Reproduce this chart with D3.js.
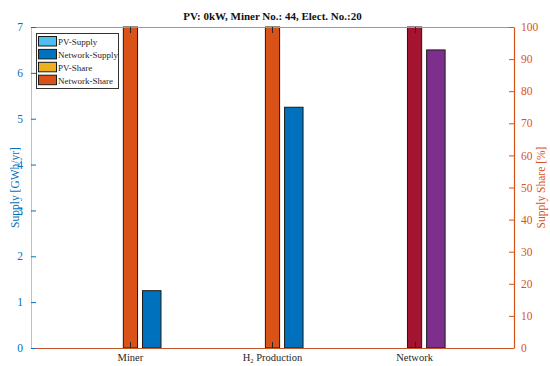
<!DOCTYPE html>
<html>
<head>
<meta charset="utf-8">
<script src="https://cdn.jsdelivr.net/npm/d3@7"></script>
<style>
  body { margin: 0; background: #fff; }
  svg, svg text { font-family: "Liberation Serif", "Times New Roman", serif; }
</style>
</head>
<body>
<svg id="chart" width="550" height="366"></svg>
<script>
// data
const categories = ["Miner", "H2 Production", "Network"];
const pvSupply = [0, 0, 0];            // GWh/yr
const networkSupply = [1.25, 5.25, 6.5];
const pvShare = [0, 0, 0];             // %
const networkShare = [100, 100, 100];
const supplyTicks = [0, 1, 2, 3, 4, 5, 6, 7];
const shareTicks = [0, 10, 20, 30, 40, 50, 60, 70, 80, 90, 100];
const legendLabels = ["PV-Supply", "Network-Supply", "PV-Share", "Network-Share"];

// styling
const BLUE = "#0072BD", ORANGE = "#D95319";
const legendColors = ["#4DBEEE", BLUE, "#EDB120", ORANGE];
const supplyColors = [BLUE, BLUE, "#7E2F8E"];
const shareColors = [ORANGE, ORANGE, "#A2142F"];
const pvColors = ["#4DBEEE", "#EDB120"];

const margin = {left: 31, right: 514, top: 27, bottom: 348};
const svg = d3.select("#chart");

const x = d3.scaleLinear().domain([0.3, 3.7]).range([margin.left, margin.right]);
const yL = d3.scaleLinear().domain([0, 7]).range([margin.bottom, margin.top]);
const yR = d3.scaleLinear().domain([0, 100]).range([margin.bottom, margin.top]);

const SHARE_W = 0.1, SUPPLY_W = 0.13, SUPPLY_OFF = 0.15;

// stacked bars: pv at the bottom, network on top
function drawStack(pv, net, scale, offset, w, pvColor, netColors) {
  const g = svg.append("g");
  categories.forEach(function(c, i) {
    const cx = x(i + 1 + offset);
    const bw = x(w) - x(0);
    if (pv[i] > 0) {
      g.append("rect")
        .attr("x", cx - bw / 2).attr("width", bw)
        .attr("y", scale(pv[i])).attr("height", scale(0) - scale(pv[i]))
        .attr("fill", pvColor).attr("stroke", "#1a1a1a").attr("stroke-width", 1);
    }
    if (net[i] > 0) {
      g.append("rect")
        .attr("x", cx - bw / 2).attr("width", bw)
        .attr("y", scale(pv[i] + net[i]))
        .attr("height", scale(pv[i]) - scale(pv[i] + net[i]))
        .attr("fill", netColors[i]).attr("stroke", "#1a1a1a").attr("stroke-width", 1);
    }
  });
}

drawStack(pvShare, networkShare, yR, 0, SHARE_W, pvColors[1], shareColors);
drawStack(pvSupply, networkSupply, yL, SUPPLY_OFF, SUPPLY_W, pvColors[0], supplyColors);

// box top line
svg.append("line")
  .attr("x1", margin.left).attr("x2", margin.right)
  .attr("y1", margin.top + 0.5).attr("y2", margin.top + 0.5)
  .attr("stroke", "#9a9a9a");

// x ticks (inward, bottom and top)
categories.forEach(function(c, i) {
  const tx = Math.round(x(i + 1)) + 0.5;
  svg.append("line").attr("x1", tx).attr("x2", tx)
    .attr("y1", margin.bottom).attr("y2", margin.bottom - 6).attr("stroke", "#262626");
  svg.append("line").attr("x1", tx).attr("x2", tx)
    .attr("y1", margin.top).attr("y2", margin.top + 6).attr("stroke", "#262626");
});

// bottom line
svg.append("line")
  .attr("x1", margin.left).attr("x2", margin.right)
  .attr("y1", margin.bottom + 0.5).attr("y2", margin.bottom + 0.5)
  .attr("stroke", "#c4572a").attr("stroke-width", 1.2);

// category labels
const catLabels = svg.append("g").attr("font-size", 10.5).attr("fill", "#262626")
  .attr("text-anchor", "middle");
categories.forEach(function(c, i) {
  const t = catLabels.append("text").attr("x", x(i + 1)).attr("y", 361);
  if (c.startsWith("H2")) {
    t.append("tspan").text("H");
    t.append("tspan").attr("font-size", 6.5).attr("dy", 2).text("2");
    t.append("tspan").attr("dy", -2).text(" Production");
  } else {
    t.text(c);
  }
});

// left axis
const axL = svg.append("g")
  .attr("transform", `translate(${margin.left},0)`)
  .attr("font-family", null)
  .call(d3.axisLeft(yL).tickValues(supplyTicks).tickFormat(d3.format("d"))
    .tickSizeInner(-5).tickSizeOuter(0).tickPadding(8));
axL.attr("font-family", "Liberation Serif");
axL.select(".domain").attr("stroke", "#9fc7e6");
axL.selectAll(".tick line").attr("stroke", BLUE);
axL.selectAll(".tick text").attr("fill", BLUE).attr("font-size", 11.5);

// right axis
const axR = svg.append("g")
  .attr("transform", `translate(${margin.right},0)`)
  .call(d3.axisRight(yR).tickValues(shareTicks).tickFormat(d3.format("d"))
    .tickSizeInner(-5).tickSizeOuter(0).tickPadding(7));
axR.attr("font-family", "Liberation Serif");
axR.select(".domain").attr("stroke", ORANGE).attr("stroke-width", 1.2);
axR.selectAll(".tick line").attr("stroke", ORANGE);
axR.selectAll(".tick text").attr("fill", ORANGE).attr("font-size", 11.5);

// axis titles
svg.append("text")
  .attr("transform", `translate(19,${(margin.top + margin.bottom) / 2}) rotate(-90)`)
  .attr("text-anchor", "middle").attr("fill", BLUE).attr("font-size", 11.5)
  .text("Supply [GWh/yr]");
svg.append("text")
  .attr("transform", `translate(545,${(margin.top + margin.bottom) / 2}) rotate(-90)`)
  .attr("text-anchor", "middle").attr("fill", ORANGE).attr("font-size", 11.5)
  .text("Supply Share [%]");

// title
svg.append("text")
  .attr("x", (margin.left + margin.right) / 2).attr("y", 20)
  .attr("text-anchor", "middle").attr("font-weight", "bold").attr("font-size", 11)
  .attr("fill", "#111")
  .text("PV: 0kW, Miner No.: 44, Elect. No.:20");

// legend
const leg = svg.append("g").attr("transform", "translate(36,33)");
leg.append("rect").attr("x", 0.5).attr("y", 0.5).attr("width", 82).attr("height", 55)
  .attr("fill", "#fff").attr("stroke", "#333");
legendLabels.forEach(function(l, i) {
  const ry = 3.5 + i * 12.9;
  leg.append("rect").attr("x", 2.5).attr("y", ry).attr("width", 18).attr("height", 9.5)
    .attr("fill", legendColors[i]).attr("stroke", "#1a1a1a");
  leg.append("text").attr("x", 22).attr("y", ry + 8.5)
    .attr("font-size", 9).attr("fill", "#262626").text(l);
});
</script>
</body>
</html>
